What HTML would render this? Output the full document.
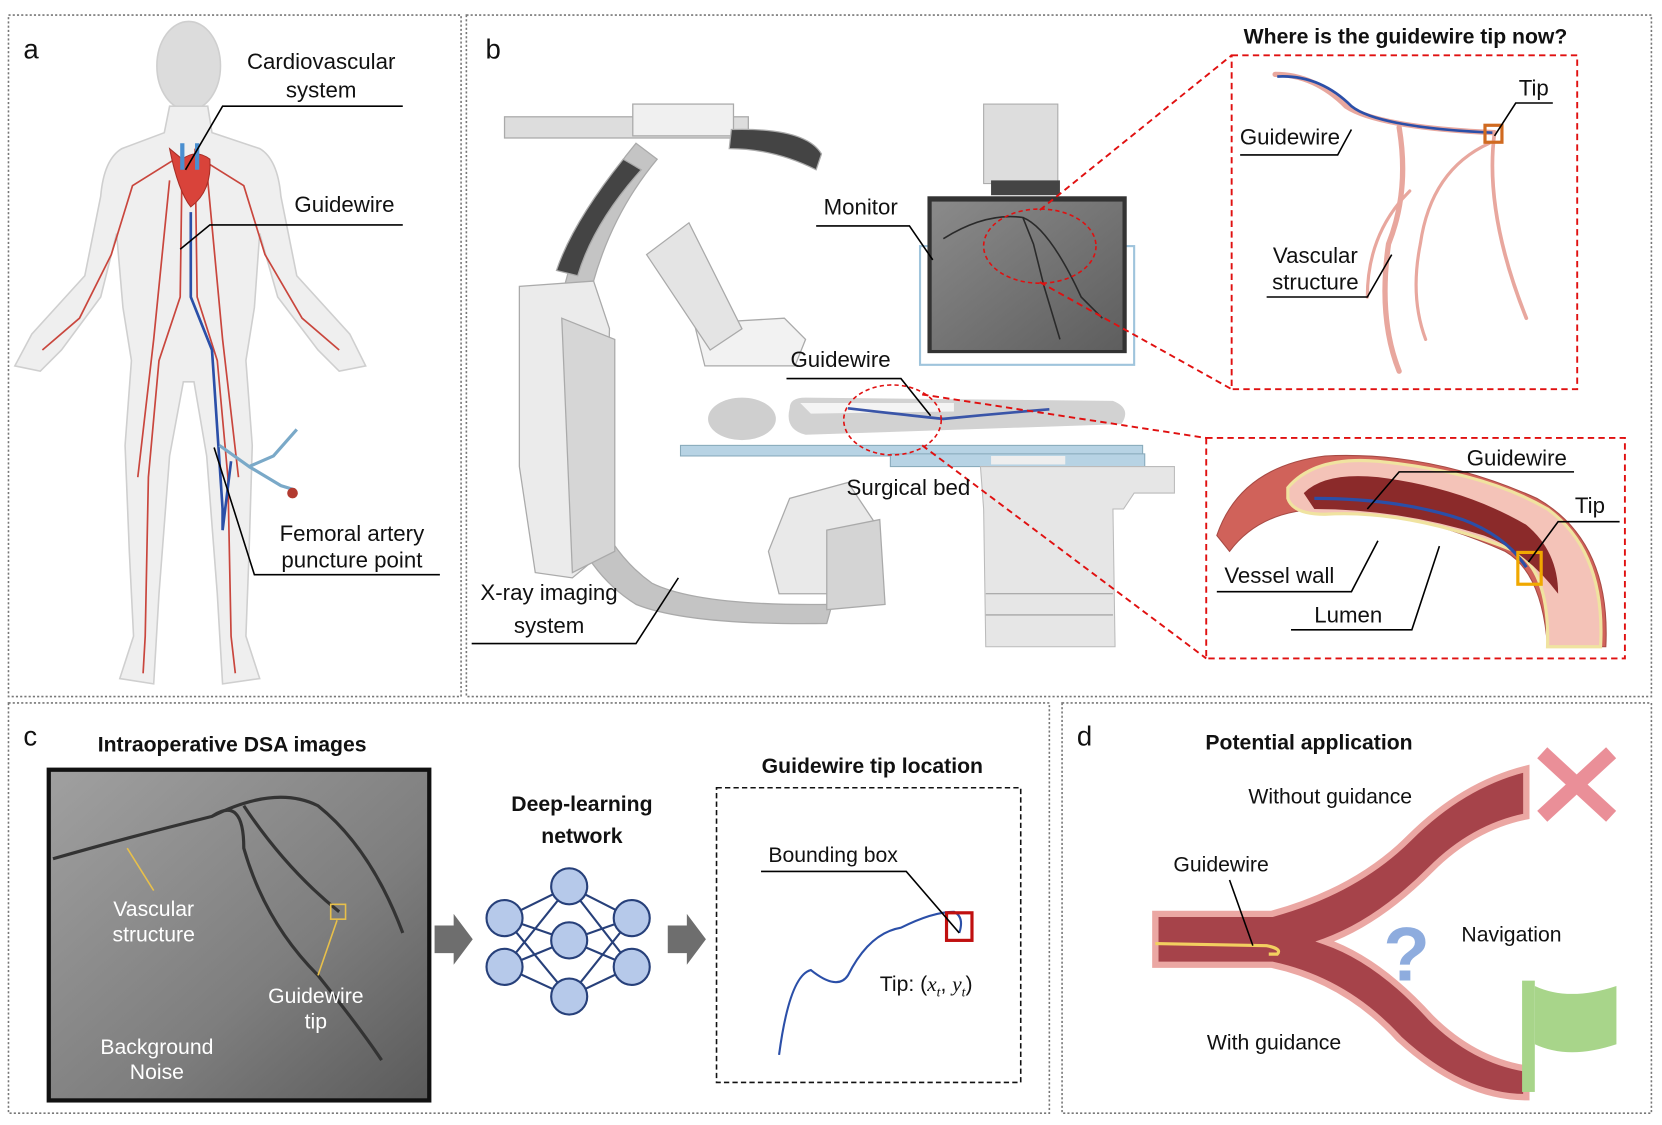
<!DOCTYPE html>
<html><head><meta charset="utf-8"><style>
html,body{margin:0;padding:0;background:#fff}
svg{display:block}
text{font-family:"Liberation Sans",sans-serif;fill:#111}
.b{font-weight:bold}
</style></head><body>
<svg width="1662" height="1125" viewBox="0 0 1568 1061" xmlns="http://www.w3.org/2000/svg">
<defs>
<linearGradient id="dsa" x1="0" y1="0" x2="1" y2="1"><stop offset="0" stop-color="#a0a0a0"/><stop offset="0.6" stop-color="#7e7e7e"/><stop offset="1" stop-color="#5a5a5a"/></linearGradient>
<linearGradient id="mon" x1="0" y1="0" x2="1" y2="1"><stop offset="0" stop-color="#8a8a8a"/><stop offset="1" stop-color="#5e5e5e"/></linearGradient>
</defs>
<g fill="none" stroke="#777" stroke-width="1.5" stroke-dasharray="2 2">
<rect x="8" y="14" width="427" height="643"/>
<rect x="440" y="14" width="1118" height="643"/>
<rect x="8" y="663" width="982" height="387"/>
<rect x="1002" y="663" width="556" height="387"/>
</g>
<text x="22" y="55" font-size="26">a</text>
<text x="458" y="55" font-size="26">b</text>
<text x="22" y="703" font-size="26">c</text>
<text x="1016" y="703" font-size="26">d</text>

<!-- Panel a -->
<g fill="#efefef" stroke="#cfcfcf" stroke-width="1.5">
<ellipse cx="178" cy="62" rx="30" ry="42" fill="#dcdcdc"/>
<path d="M160,100 L196,100 L200,125 L245,140 Q262,150 265,185 L280,260 L330,315 L345,345 L320,350 L300,330 L262,280 L245,220 L240,290 L232,340 L238,420 L235,520 L232,600 L245,640 L210,645 L205,560 L195,430 L183,360 L173,360 L160,430 L150,560 L145,645 L113,640 L126,600 L122,520 L118,420 L124,340 L116,290 L110,220 L95,280 L58,330 L38,350 L14,345 L30,315 L80,260 L95,185 Q98,150 115,140 L155,125 Z"/>
</g>
<g fill="none" stroke="#c9463d" stroke-width="1.6">
<path d="M172,140 L170,280 L150,340 L140,450 L137,600 L135,635"/>
<path d="M184,140 L186,280 L205,340 L215,450 L218,600 L222,635"/>
<path d="M165,150 L125,175 L105,240 L75,300 L40,330"/>
<path d="M190,150 L230,175 L250,240 L285,300 L320,330"/>
<path d="M160,170 L145,320 L130,450"/><path d="M196,170 L210,320 L225,450"/>
</g>
<path d="M160,140 Q168,180 180,195 Q200,180 198,150 Q185,140 172,150 Z" fill="#d9433a" stroke="#a82e26"/>
<path d="M172,135 L172,160 M186,135 L186,160" stroke="#4a8fd0" stroke-width="4"/>
<path d="M180,200 L180,280 L200,330 L206,420 L210,480 L210,500 L218,435" fill="none" stroke="#2b4fa8" stroke-width="2.5"/>
<path d="M207,420 L235,440 L258,430 L280,405 M235,440 L265,458 L278,462" fill="none" stroke="#7aa9c8" stroke-width="3"/>
<circle cx="276" cy="465" r="5" fill="#b23a30"/>
<text x="303" y="65" font-size="21" text-anchor="middle">Cardiovascular</text>
<text x="303" y="92" font-size="21" text-anchor="middle">system</text>
<path d="M380,100 L210,100 L175,160" fill="none" stroke="#000" stroke-width="1.5"/>
<text x="325" y="200" font-size="21" text-anchor="middle">Guidewire</text>
<path d="M380,212 L198,212 L170,235" fill="none" stroke="#000" stroke-width="1.5"/>
<text x="332" y="510" font-size="21" text-anchor="middle">Femoral artery</text>
<text x="332" y="535" font-size="21" text-anchor="middle">puncture point</text>
<path d="M415,542 L240,542 L202,422" fill="none" stroke="#000" stroke-width="1.5"/>

<!-- Panel b: C-arm -->
<g stroke="#aaa" stroke-width="1.2">
<rect x="476" y="110" width="230" height="20" fill="#ddd"/>
<rect x="597" y="98" width="95" height="30" fill="#f0f0f0"/>
<path d="M690,122 Q760,120 775,145 L770,160 Q730,140 688,140 Z" fill="#444"/>
<path d="M600,135 Q520,230 520,380 Q520,520 600,570 Q650,590 780,588 L785,570 Q660,572 615,550 Q545,500 545,380 Q545,240 620,150 Z" fill="#c4c4c4"/>
<path d="M588,150 Q540,210 525,255 L545,260 Q560,210 605,160 Z" fill="#444"/>
<path d="M490,270 L560,265 L575,310 L570,520 L540,545 L505,540 L490,440 Z" fill="#ebebeb"/>
<path d="M530,300 L580,320 L580,520 L540,540 Z" fill="#d6d6d6"/>
<path d="M655,305 L740,300 L760,320 L750,345 L665,345 Z" fill="#f2f2f2"/>
<path d="M610,240 L650,210 L700,310 L670,330 Z" fill="#e4e4e4"/>
<path d="M745,470 L800,455 L830,500 L815,560 L735,560 L725,520 Z" fill="#e9e9e9"/>
<path d="M780,500 L830,490 L835,570 L780,575 Z" fill="#d4d4d4"/>
</g>
<ellipse cx="700" cy="395" rx="32" ry="20" fill="#cfcfcf"/>
<path d="M745,385 Q745,375 760,375 L1050,378 Q1068,385 1058,400 L760,410 Q740,405 745,385 Z" fill="#d2d2d2"/>
<path d="M755,380 L900,380 L900,388 L765,390 Z" fill="#f4f4f4"/>
<path d="M800,385 Q860,392 890,395 Q940,390 990,386" fill="none" stroke="#3a55a8" stroke-width="2.5"/>
<rect x="642" y="420" width="436" height="10" fill="#b7d3e4" stroke="#8ab"/>
<rect x="840" y="428" width="240" height="12" fill="#b7d3e4" stroke="#8ab"/>
<rect x="935" y="430" width="70" height="8" fill="#eee"/>
<path d="M925,440 L1108,440 L1108,465 L1070,465 L1060,480 L1050,480 L1052,610 L930,610 L928,480 Z" fill="#e6e6e6" stroke="#bbb"/>
<line x1="930" y1="560" x2="1050" y2="560" stroke="#999"/><line x1="930" y1="580" x2="1050" y2="580" stroke="#999"/>
<rect x="928" y="98" width="70" height="75" fill="#ddd" stroke="#aaa"/>
<rect x="935" y="170" width="65" height="14" fill="#444"/>
<rect x="868" y="232" width="202" height="112" fill="none" stroke="#9fc4dc" stroke-width="2"/>
<rect x="875" y="185" width="188" height="148" fill="#333"/>
<rect x="879" y="190" width="180" height="140" fill="url(#mon)"/>
<path d="M890,225 Q930,200 965,205 L975,230 L985,270 L1000,320 M965,205 Q990,215 1020,280 L1040,300" fill="none" stroke="#2a2a2a" stroke-width="1.5"/>
<ellipse cx="981" cy="232" rx="53" ry="35" fill="none" stroke="#e01010" stroke-width="1.5" stroke-dasharray="4 3"/>
<ellipse cx="842" cy="396" rx="46" ry="33" fill="none" stroke="#e01010" stroke-width="1.5" stroke-dasharray="4 3"/>
<g stroke="#e01010" stroke-width="1.8" stroke-dasharray="6 4" fill="none">
<line x1="981" y1="198" x2="1162" y2="52"/><line x1="981" y1="266" x2="1162" y2="367"/>
<line x1="870" y1="372" x2="1138" y2="413"/><line x1="870" y1="420" x2="1138" y2="621"/>
<rect x="1162" y="52" width="326" height="315"/>
<rect x="1138" y="413" width="395" height="208"/>
</g>
<text x="812" y="202" font-size="21" text-anchor="middle">Monitor</text>
<path d="M770,213 L858,213 L880,245" fill="none" stroke="#000" stroke-width="1.5"/>
<text x="793" y="346" font-size="21" text-anchor="middle">Guidewire</text>
<path d="M742,357 L850,357 L878,392" fill="none" stroke="#000" stroke-width="1.5"/>
<text x="857" y="467" font-size="21" text-anchor="middle">Surgical bed</text>
<text x="518" y="566" font-size="21" text-anchor="middle">X-ray imaging</text>
<text x="518" y="597" font-size="21" text-anchor="middle">system</text>
<path d="M445,607 L600,607 L640,545" fill="none" stroke="#000" stroke-width="1.5"/>
<text x="1326" y="41" font-size="20" class="b" text-anchor="middle">Where is the guidewire tip now?</text>
<g fill="none" stroke="#e8a79e" stroke-width="5" stroke-linecap="round">
<path d="M1203,70 Q1240,70 1270,100 Q1300,120 1410,125"/>
<path d="M1320,120 Q1330,180 1310,230 Q1300,300 1320,350"/>
<path d="M1410,125 Q1400,200 1440,300" stroke-width="3.5"/>
<path d="M1405,135 Q1350,160 1340,230 Q1330,280 1345,320" stroke-width="3"/>
<path d="M1330,180 Q1290,220 1290,280" stroke-width="3"/>
</g>
<path d="M1205,72 Q1245,70 1275,100 Q1300,120 1408,125" fill="none" stroke="#2b4fa8" stroke-width="2.5"/>
<rect x="1401" y="118" width="16" height="16" fill="none" stroke="#d06a20" stroke-width="3"/>
<text x="1447" y="90" font-size="21" text-anchor="middle">Tip</text>
<path d="M1465,97 L1430,97 L1410,128" fill="none" stroke="#000" stroke-width="1.5"/>
<text x="1217" y="136" font-size="21" text-anchor="middle">Guidewire</text>
<path d="M1170,146 L1262,146 L1275,122" fill="none" stroke="#000" stroke-width="1.5"/>
<text x="1241" y="248" font-size="21" text-anchor="middle">Vascular</text>
<text x="1241" y="273" font-size="21" text-anchor="middle">structure</text>
<path d="M1195,280 L1290,280 L1313,240" fill="none" stroke="#000" stroke-width="1.5"/>
<path d="M1148,505 Q1170,440 1250,430 Q1350,425 1450,470 Q1520,510 1515,610 L1460,610 Q1455,540 1420,520 Q1330,480 1250,480 Q1190,480 1160,520 Z" fill="#d0625a" stroke="#a84a44"/>
<path d="M1215,460 Q1240,430 1300,435 Q1400,445 1460,480 Q1515,520 1510,610 L1460,610 Q1462,540 1430,520 Q1330,480 1250,485 Q1220,485 1215,470 Z" fill="#f4c3b8" stroke="#f0e3a0" stroke-width="3"/>
<path d="M1230,465 Q1250,445 1300,450 Q1380,460 1440,495 Q1470,520 1470,560 Q1440,520 1400,505 Q1320,480 1240,480 Z" fill="#8b2a2a"/>
<path d="M1240,470 Q1320,470 1380,490 Q1420,505 1440,535" fill="none" stroke="#2b4fa8" stroke-width="3"/>
<rect x="1432" y="521" width="22" height="30" fill="none" stroke="#f0a800" stroke-width="3"/>
<text x="1431" y="439" font-size="21" text-anchor="middle">Guidewire</text>
<path d="M1485,445 L1320,445 L1290,480" fill="none" stroke="#000" stroke-width="1.5"/>
<text x="1500" y="484" font-size="21" text-anchor="middle">Tip</text>
<path d="M1528,492 L1470,492 L1442,530" fill="none" stroke="#000" stroke-width="1.5"/>
<text x="1207" y="550" font-size="21" text-anchor="middle">Vessel wall</text>
<path d="M1148,558 L1275,558 L1300,510" fill="none" stroke="#000" stroke-width="1.5"/>
<text x="1272" y="587" font-size="21" text-anchor="middle">Lumen</text>
<path d="M1218,594 L1332,594 L1358,515" fill="none" stroke="#000" stroke-width="1.5"/>

<!-- Panel c -->
<text x="219" y="709" font-size="20" class="b" text-anchor="middle">Intraoperative DSA  images</text>
<rect x="46" y="726" width="359" height="312" fill="url(#dsa)" stroke="#111" stroke-width="4"/>
<path d="M50,810 Q120,790 200,770 Q230,750 230,800 Q250,870 300,920 Q340,970 360,1000 M200,770 Q260,740 300,760 Q350,800 380,880 M230,760 Q270,820 320,860" fill="none" stroke="#333" stroke-width="3"/>
<path d="M120,800 L145,840" stroke="#e8c04a" stroke-width="1.5"/>
<rect x="312" y="853" width="14" height="14" fill="none" stroke="#e8c04a" stroke-width="1.5"/>
<path d="M318,868 L300,920" stroke="#e8c04a" stroke-width="1.5"/>
<g font-size="20" text-anchor="middle">
<text x="145" y="864" style="fill:#fff">Vascular</text><text x="145" y="888" style="fill:#fff">structure</text>
<text x="298" y="946" style="fill:#fff">Guidewire</text><text x="298" y="970" style="fill:#fff">tip</text>
<text x="148" y="994" style="fill:#fff">Background</text><text x="148" y="1018" style="fill:#fff">Noise</text>
</g>
<path d="M410,873 L428,873 L428,862 L446,886 L428,910 L428,899 L410,899 Z" fill="#6e6e6e"/>
<path d="M630,873 L648,873 L648,862 L666,886 L648,910 L648,899 L630,899 Z" fill="#6e6e6e"/>
<text x="549" y="765" font-size="20" class="b" text-anchor="middle">Deep-learning</text>
<text x="549" y="795" font-size="20" class="b" text-anchor="middle">network</text>
<g stroke="#27407a" stroke-width="2">
<path fill="none" d="M476,866 L537,836 M476,866 L537,887 M476,866 L537,940 M476,912 L537,836 M476,912 L537,887 M476,912 L537,940 M537,836 L596,866 M537,836 L596,912 M537,887 L596,866 M537,887 L596,912 M537,940 L596,866 M537,940 L596,912"/>
<g fill="#b6c9ea">
<circle cx="476" cy="866" r="17"/><circle cx="476" cy="912" r="17"/>
<circle cx="537" cy="836" r="17"/><circle cx="537" cy="887" r="17"/><circle cx="537" cy="940" r="17"/>
<circle cx="596" cy="866" r="17"/><circle cx="596" cy="912" r="17"/>
</g></g>
<text x="823" y="729" font-size="20" class="b" text-anchor="middle">Guidewire tip location</text>
<rect x="676" y="743" width="287" height="278" fill="none" stroke="#111" stroke-width="1.5" stroke-dasharray="5 3"/>
<path d="M735,995 Q745,920 765,915 Q790,935 800,920 Q820,880 850,875 Q880,860 900,860 Q910,865 905,880" fill="none" stroke="#2b4fa8" stroke-width="2"/>
<rect x="893" y="861" width="24" height="26" fill="none" stroke="#c01010" stroke-width="3"/>
<text x="786" y="813" font-size="20" text-anchor="middle">Bounding box</text>
<path d="M718,822 L855,822 L905,880" fill="none" stroke="#000" stroke-width="1.5"/>
<text x="830" y="935" font-size="20">Tip: (<tspan font-family="Liberation Serif" font-style="italic">x</tspan><tspan font-size="13" dy="5" font-family="Liberation Serif" font-style="italic">t</tspan><tspan dy="-5">, </tspan><tspan font-family="Liberation Serif" font-style="italic">y</tspan><tspan font-size="13" dy="5" font-family="Liberation Serif" font-style="italic">t</tspan><tspan dy="-5">)</tspan></text>

<!-- Panel d -->
<text x="1235" y="707" font-size="20" class="b" text-anchor="middle">Potential application</text>
<path d="M1090,862 L1200,862 Q1280,840 1330,790 Q1380,740 1440,725 L1440,770 Q1390,780 1350,820 Q1300,870 1250,888 Q1300,905 1350,960 Q1390,1000 1440,1008 L1440,1035 Q1380,1035 1320,980 Q1270,925 1200,910 L1090,910 Z" fill="#a6434a" stroke="#eba7a3" stroke-width="6"/>
<path d="M1090,890 L1195,892 Q1210,895 1205,900 L1197,900" fill="none" stroke="#f2d060" stroke-width="3"/>
<path d="M1160,830 L1182,892" stroke="#000" stroke-width="1.5"/>
<text x="1152" y="822" font-size="20" text-anchor="middle">Guidewire</text>
<text x="1255" y="758" font-size="20" text-anchor="middle">Without guidance</text>
<text x="1202" y="990" font-size="20" text-anchor="middle">With guidance</text>
<text x="1426" y="888" font-size="20" text-anchor="middle">Navigation</text>
<text x="1327" y="925" font-size="72" class="b" text-anchor="middle" style="fill:#8eacde">?</text>
<path d="M1455,710 L1520,770 M1520,710 L1455,770" stroke="#ea8f98" stroke-width="14"/>
<rect x="1436" y="925" width="12" height="105" fill="#a8d58a"/>
<path d="M1448,930 Q1480,945 1525,930 L1525,985 Q1480,1000 1448,985 Z" fill="#a8d58a"/>
</svg>
</body></html>
